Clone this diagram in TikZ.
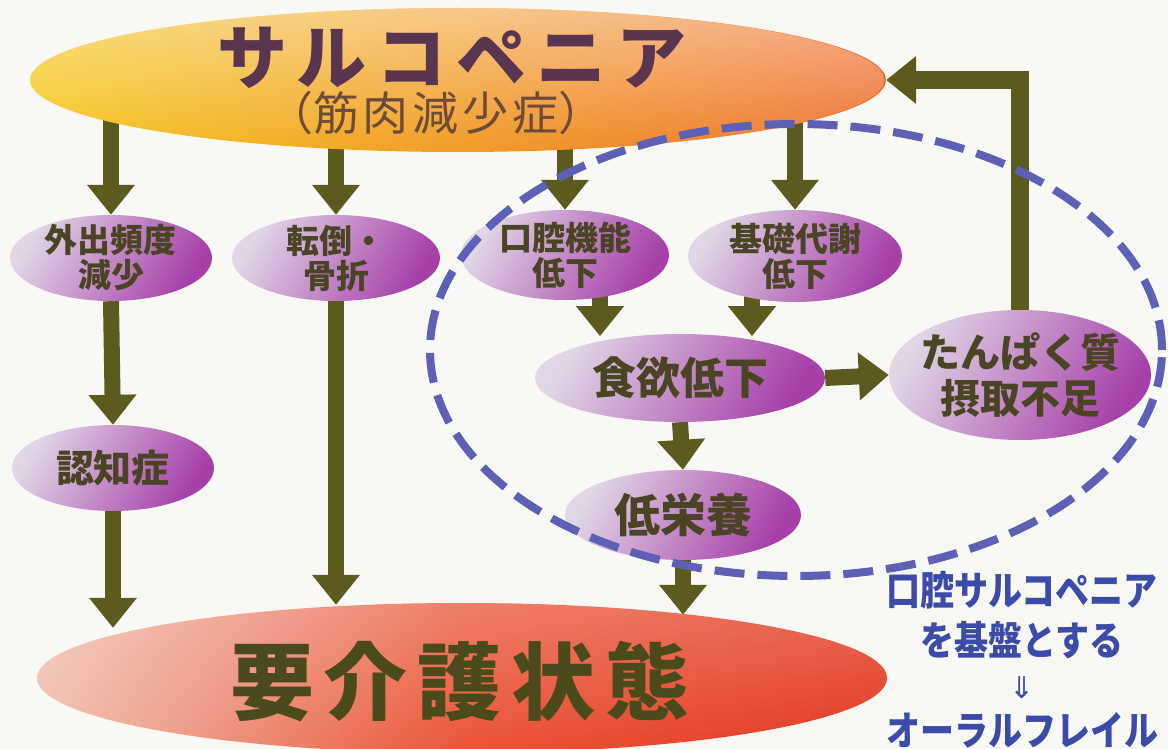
\documentclass[tikz,border=0pt]{standalone}
\usepackage{fontspec}
\setmainfont{Noto Sans CJK JP}
\newfontfamily\djv{DejaVu Sans}
\usetikzlibrary{arrows.meta,shapes.geometric,fadings,calc}
\pgfdeclarelayer{back}\pgfdeclarelayer{bg}\pgfsetlayers{back,bg,main}
\definecolor{olv}{HTML}{5C5A1E}
\definecolor{lav}{HTML}{E0D6E6}
\definecolor{mag}{HTML}{A63FA8}
\definecolor{ptxt}{HTML}{4A4424}
\definecolor{ttl}{HTML}{5A3550}
\definecolor{sub}{HTML}{6E4A38}
\definecolor{btxt}{HTML}{4B4A1B}
\definecolor{blu}{HTML}{3D4BA8}
\definecolor{dsh}{HTML}{5D60B5}
\definecolor{bgc}{HTML}{F8F8F4}
\definecolor{yel}{HTML}{F5C81E}
\definecolor{ora}{HTML}{EE7030}
\definecolor{pnk}{HTML}{F0C0B0}
\definecolor{red1}{HTML}{E2361E}
\definecolor{red2}{HTML}{EA5436}
\begin{document}
\begin{tikzpicture}[x=1pt,y=-1pt,
  arr/.style={draw=olv, line width=16pt, -{Triangle[width=46pt,length=30pt]}},
  pnode/.style={ellipse, inner sep=-10pt, left color=lav, right color=mag, shading angle=60,
    text=ptxt, font=\bfseries\fontsize{33}{35}\selectfont, align=center},
  lbl/.style={text=blu, font=\bfseries\fontsize{40}{40}\selectfont, inner sep=0pt},
  big/.style={ellipse, inner sep=0pt}
]
\begin{pgfonlayer}{back}
\fill[bgc] (0,0) rectangle (1168,749);
\end{pgfonlayer}
\useasboundingbox (0,0) rectangle (1168,749);

% main ellipses
\node[big, minimum width=856pt, minimum height=144pt, left color=yel, right color=ora, shading angle=90] (top) at (458,80) {};
\fill[white, fill opacity=0.45, path fading=south] (top.center) ellipse [x radius=428, y radius=72];
\node[big, minimum width=850pt, minimum height=150pt, left color=pnk, right color=red1, middle color=red2, shading angle=90] (bot) at (462,678) {};
\fill[white, fill opacity=0.25, path fading=south] (bot.center) ellipse [x radius=425, y radius=75];

\node[text=ttl, font=\bfseries\fontsize{70}{70}\selectfont, inner sep=0pt] (ttl) at (452,58)
  {サ\hspace{10pt}ル\hspace{10pt}コ\hspace{10pt}ペ\hspace{10pt}ニ\hspace{10pt}ア};
\node[text=sub, font=\fontsize{46}{46}\selectfont, inner sep=0pt] (sub) at (436,113)
  {（筋\hspace{4pt}肉\hspace{4pt}減\hspace{4pt}少\hspace{4pt}症）};
\node[text=btxt, font=\bfseries\fontsize{84}{84}\selectfont, inner sep=0pt] (btx) at (460,682)
  {要\hspace{10pt}介\hspace{10pt}護\hspace{10pt}状\hspace{10pt}態};

% purple ellipses
\node[pnode, minimum width=202pt, minimum height=86pt] (gai) at (111,258) {外出頻度\\減少};
\node[pnode, minimum width=208pt, minimum height=86pt] (ten) at (336,258) {転倒・\\骨折};
\node[pnode, minimum width=208pt, minimum height=90pt] (kou) at (565,255) {口腔機能\\低下};
\node[pnode, minimum width=214pt, minimum height=92pt] (kiso) at (795,256) {基礎代謝\\低下};
\node[pnode, minimum width=202pt, minimum height=86pt, font=\bfseries\fontsize{38}{40}\selectfont] (nin) at (113,468) {認知症};
\node[pnode, minimum width=290pt, minimum height=88pt, font=\bfseries\fontsize{44}{46}\selectfont] (shoku) at (680,378) {食欲低下};
\node[pnode, minimum width=262pt, minimum height=130pt, font=\bfseries\fontsize{40}{46}\selectfont] (tan) at (1020,375) {たんぱく質\\摂取不足};
\node[pnode, minimum width=236pt, minimum height=90pt, font=\bfseries\fontsize{46}{48}\selectfont] (tei) at (683,515) {低栄養};

% arrows
\begin{pgfonlayer}{bg}
\draw[arr] (gai.north |- top.center) -- (gai.north);
\draw[arr] (ten.north |- top.center) -- (ten.north);
\draw[arr] (kou.north |- top.center) -- (kou.north);
\draw[arr] (kiso.north |- top.center) -- (kiso.north);
\draw[arr] (gai.south) -- (nin.north);
\draw[arr] (nin.south) -- ($(nin.south |- bot.north)+(0,25)$);
\draw[arr] (ten.south) -- ($(ten.south |- bot.north)+(0,2)$);
\draw[arr] ($(kou.south)+(35,-8)$) -- ($(kou.south)+(35,36)$);
\draw[arr] ($(kiso.south)+(-43,-8)$) -- ($(kiso.south)+(-43,34)$);
\draw[arr] (shoku.east) -- (tan.west);
\draw[arr] (shoku.south) -- (tei.north);
\draw[arr] (tei.south) -- ($(tei.south |- bot.north)+(0,12)$);
\draw[arr, line width=18pt] (tan.north) |- (top.east);
\end{pgfonlayer}

% dashed group
\node[ellipse, draw=dsh, line width=8pt, dash pattern=on 30pt off 13pt, inner sep=0pt,
  minimum width=732pt, minimum height=452pt] (grp) at (796,350) {};

% side labels
\node[lbl] (l1) at (1022,590) {\scalebox{0.85}[1]{口腔サルコペニア}};
\node[lbl] (l2) at (1022,640) {\scalebox{0.85}[1]{を基盤とする}};
\node[text=blu, font=\djv\fontsize{30}{30}\selectfont, inner sep=0pt] (l3) at (1022,688) {⇓};
\node[lbl] (l4) at (1022,730) {\scalebox{0.85}[1]{オーラルフレイル}};
\end{tikzpicture}
\end{document}
